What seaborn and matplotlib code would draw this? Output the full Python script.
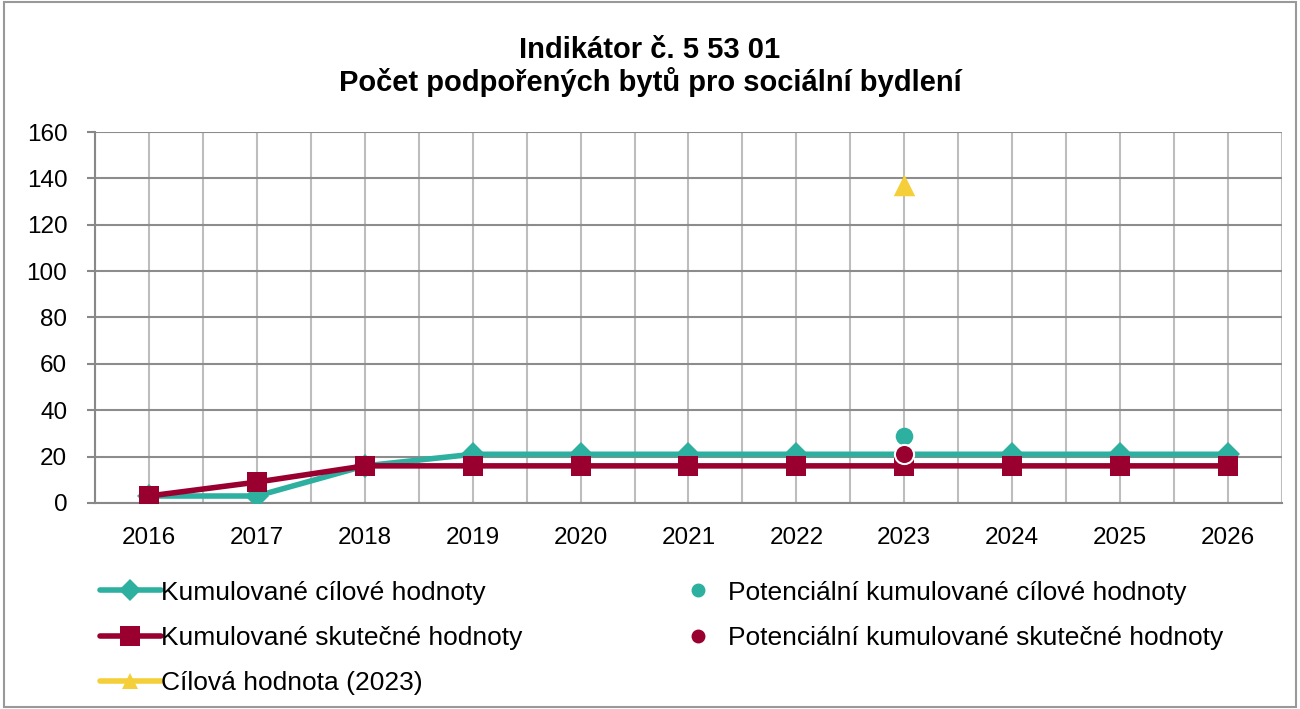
import numpy as np
import pandas as pd
import seaborn as sns
import matplotlib.pyplot as plt
from matplotlib.lines import Line2D
from matplotlib.ticker import MultipleLocator

years = ['2016', '2017', '2018', '2019', '2020', '2021', '2022', '2023', '2024', '2025', '2026']
cilove = [3, 3, 16, 21, 21, 21, 21, 21, 21, 21, 21]
skutecne = [3, 9, 16, 16, 16, 16, 16, 16, 16, 16, 16]
cil_rok = '2023'
cil_hodnota = 137
pot_cilove = 29
pot_skutecne = 21

teal = '#2db0a0'
red = '#990030'
yellow = '#f5cf3a'

sns.set_theme(style='white')
plt.rcParams['font.family'] = ['Liberation Sans', 'DejaVu Sans']
plt.rcParams['text.color'] = 'black'

df = pd.DataFrame({'rok': years, 'cilove': cilove, 'skutecne': skutecne})
df['x'] = np.arange(len(years))
ix = years.index(cil_rok)

fig = plt.figure(figsize=(13, 7.09), dpi=100)
ax = fig.add_axes([0.0731, 0.2906, 0.9130, 0.5232])

sns.lineplot(data=df, x='x', y='cilove', ax=ax, color=teal, lw=4, marker='D',
             markersize=12, markeredgewidth=0, zorder=3)
sns.lineplot(data=df, x='x', y='skutecne', ax=ax, color=red, lw=4, marker='s',
             markersize=15, markeredgewidth=0, zorder=4)
ax.scatter([ix], [pot_cilove], s=160, color=teal, zorder=5, linewidths=0)
ax.scatter([ix], [pot_skutecne], s=190, color=red, edgecolor='white', linewidths=1.5, zorder=6)
ax.scatter([ix], [cil_hodnota], s=240, marker='^', color=yellow, zorder=5, linewidths=0)

ax.set_xlim(-0.5, len(years) - 0.5)
ax.set_ylim(0, 160)
ax.yaxis.set_major_locator(MultipleLocator(20))
ax.set_xticks(df['x'])
ax.set_xticklabels(years)
ax.set_xticks(np.arange(-0.5, len(years), 1), minor=True)
ax.set_xlabel('')
ax.set_ylabel('')
ax.tick_params(axis='both', which='major', labelsize=17.5, colors='black')
ax.tick_params(axis='x', which='major', length=0, pad=17)
ax.tick_params(axis='x', which='minor', length=6, color='#888888', direction='out')
ax.tick_params(axis='y', which='major', length=6, width=1.5, color='#888888', direction='out',
               left=True, pad=14)
ax.grid(True, axis='y', color='#8c8c8c', lw=1.5)
ax.grid(True, axis='x', which='both', color='#bdbdbd', lw=1.5)
ax.set_axisbelow(True)
for s in ['top', 'right']:
    ax.spines[s].set_visible(False)
for s in ['left', 'bottom']:
    ax.spines[s].set_color('#888888')
    ax.spines[s].set_linewidth(1.5)

fig.text(0.5, 0.930, 'Indikátor č. 5 53 01', ha='center', va='center', fontsize=21, fontweight='bold')
fig.text(0.5, 0.884, 'Počet podpořených bytů pro sociální bydlení', ha='center', va='center',
         fontsize=21, fontweight='bold')

handles = [
    Line2D([], [], color=teal, lw=4, marker='D', markersize=11, markeredgewidth=0),
    Line2D([], [], color=red, lw=4, marker='s', markersize=15, markeredgewidth=0),
    Line2D([], [], color=yellow, lw=4, marker='^', markersize=12, markeredgewidth=0),
    Line2D([], [], color=teal, lw=0, marker='o', markersize=9),
    Line2D([], [], color=red, lw=0, marker='o', markersize=9),
]
labels = ['Kumulované cílové hodnoty', 'Kumulované skutečné hodnoty', 'Cílová hodnota (2023)',
          'Potenciální kumulované cílové hodnoty', 'Potenciální kumulované skutečné hodnoty']
fig.legend(handles, labels, ncol=2, loc='upper left', bbox_to_anchor=(0.077, 0.181),
           frameon=False, fontsize=19, handlelength=2.3, handletextpad=0.0,
           columnspacing=5.5, labelspacing=0.8, borderpad=0, borderaxespad=0)

fig.patches.append(plt.Rectangle((0.003, 0.003), 0.994, 0.994, transform=fig.transFigure,
                                 fill=False, edgecolor='#999999', lw=1.5))
fig.savefig('out.png', dpi=100)
